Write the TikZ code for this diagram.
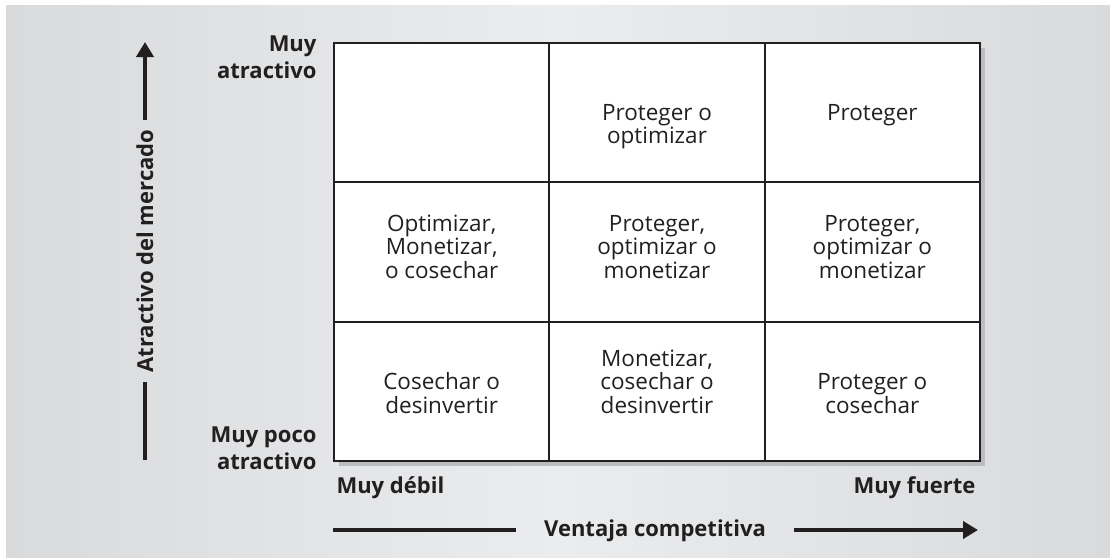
\documentclass[tikz,border=0pt]{standalone}
\usepackage{fontspec}
\setmainfont{Open Sans}
\usetikzlibrary{arrows.meta, positioning, calc}
\definecolor{ink}{HTML}{231F20}
\definecolor{bgdark}{HTML}{D9DADC}
\definecolor{bglight}{HTML}{EBECED}
\definecolor{shadowgray}{HTML}{BCBDC0}

\begin{document}
\begin{tikzpicture}[
        x=1pt, y=-1pt,
        every node/.style={text=ink},
        cell/.style={draw=ink, line width=2pt, fill=white, minimum width=215.33pt, minimum height=139.33pt, inner sep=0pt, anchor=north west},
        celltext/.style={font=\fontsize{22.5}{23.5}\selectfont, align=center, anchor=base},
        axislabel/.style={font=\fontsize{22}{27}\selectfont\bfseries},
        axisline/.style={draw=ink, line width=4pt},
        axisarrow/.style={axisline, -{Triangle[length=15pt, width=17pt]}}
    ]
        % background and shadow
        \useasboundingbox (0,0) rectangle (1110,557);
        \shade[left color=bgdark, right color=bgdark, middle color=bglight] (6,5) rectangle (1110,557);
        \fill[shadowgray] (339,48) rectangle (985,466);

        % 3x3 grid
        \foreach \r in {1,2,3}
            \foreach \c in {1,2,3}
                \node[cell] (c\r\c) at ({333+(\c-1)*215.33}, {42+(\r-1)*139.33}) {};

        % (base = last line)
        \node[celltext] (t12) at ($(c12.north)+(0,101.5)$) {Proteger o\\optimizar};
        \node[celltext] (t13) at ($(c13.north)+(0,78)$) {Proteger};
        \node[celltext] (t21) at ($(c21.north)+(0,96.7)$) {Optimizar,\\Monetizar,\\o cosechar};
        \node[celltext] (t22) at ($(c22.north)+(0,96.7)$) {Proteger,\\optimizar o\\monetizar};
        \node[celltext] (t23) at ($(c23.north)+(0,96.7)$) {Proteger,\\optimizar o\\monetizar};
        \node[celltext] (t31) at ($(c31.north)+(0,92.8)$) {Cosechar o\\desinvertir};
        \node[celltext] (t32) at ($(c32.north)+(0,92.8)$) {Monetizar,\\cosechar o\\desinvertir};
        \node[celltext] (t33) at ($(c33.north)+(0,92.8)$) {Proteger o\\cosechar};

        % end labels
        \node[axislabel, align=right, anchor=base east] (hiattr) at ($(c11.north west)+(-13,36)$) {Muy\\atractivo};
        \node[axislabel, align=right, anchor=base east] (loattr) at ($(c31.south west)+(-13,8)$) {Muy poco\\atractivo};
        \node[axislabel, anchor=base west] (weak) at ($(c31.south west)+(0,32)$) {Muy débil};
        \node[axislabel, anchor=base east] (strong) at ($(c33.south east)+(-2,32)$) {Muy fuerte};

        % axes
        \coordinate (ybot) at (145,460);
        \coordinate (ytop) at (145,42);
        \node[axislabel, rotate=90, anchor=base, inner xsep=9pt] (ylab) at (153,251) {Atractivo del mercado};
        \draw[axisline] (ybot) -- (ybot |- ylab.west);
        \draw[axisarrow] (ytop |- ylab.east) -- (ytop);

        \coordinate (xleft) at (333,530);
        \coordinate (xright) at (978,530);
        \node[axislabel, anchor=base, inner xsep=28pt] (xlab) at (655,536) {Ventaja competitiva};
        \draw[axisline] (xleft) -- (xleft -| xlab.west);
        \draw[axisarrow] (xlab.east |- xright) -- (xright);
    \end{tikzpicture}
\end{document}
